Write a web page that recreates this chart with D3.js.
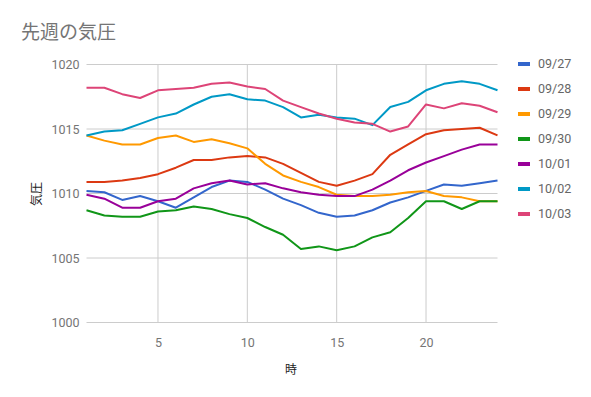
<!DOCTYPE html>
<html>
<head>
<meta charset="utf-8">
<script src="https://cdn.jsdelivr.net/npm/d3@7"></script>
<style>
  body { margin: 0; background: #fff; }
  text { font-family: Roboto, "Noto Sans CJK JP", sans-serif; }
</style>
</head>
<body>
<svg id="chart"></svg>
<script>
// 時 (x)
const hours = d3.range(1, 25);
const seriesNames = ["09/27", "09/28", "09/29", "09/30", "10/01", "10/02", "10/03"];
const seriesColors = ["#3366cc", "#dc3912", "#ff9900", "#109618", "#990099", "#0099c6", "#dd4477"];
const yTicks = [1000, 1005, 1010, 1015, 1020];
const xTicks = [5, 10, 15, 20];

const p0927 = [1010.2, 1010.1, 1009.5, 1009.8, 1009.4, 1008.9, 1009.7, 1010.5, 1011.0, 1010.9, 1010.3, 1009.6,
               1009.1, 1008.5, 1008.2, 1008.3, 1008.7, 1009.3, 1009.7, 1010.2, 1010.7, 1010.6, 1010.8, 1011.0];
const p0928 = [1010.9, 1010.9, 1011.0, 1011.2, 1011.5, 1012.0, 1012.6, 1012.6, 1012.8, 1012.9, 1012.8, 1012.3,
               1011.6, 1010.9, 1010.6, 1011.0, 1011.5, 1013.0, 1013.8, 1014.6, 1014.9, 1015.0, 1015.1, 1014.5];
const p0929 = [1014.5, 1014.1, 1013.8, 1013.8, 1014.3, 1014.5, 1014.0, 1014.2, 1013.9, 1013.5, 1012.3, 1011.4,
               1010.9, 1010.5, 1009.9, 1009.8, 1009.8, 1009.9, 1010.1, 1010.2, 1009.8, 1009.7, 1009.4, 1009.4];
const p0930 = [1008.7, 1008.3, 1008.2, 1008.2, 1008.6, 1008.7, 1009.0, 1008.8, 1008.4, 1008.1, 1007.4, 1006.8,
               1005.7, 1005.9, 1005.6, 1005.9, 1006.6, 1007.0, 1008.1, 1009.4, 1009.4, 1008.8, 1009.4, 1009.4];
const p1001 = [1009.9, 1009.6, 1008.9, 1008.9, 1009.4, 1009.6, 1010.4, 1010.8, 1011.0, 1010.7, 1010.8, 1010.4,
               1010.1, 1009.9, 1009.8, 1009.8, 1010.3, 1011.0, 1011.8, 1012.4, 1012.9, 1013.4, 1013.8, 1013.8];
const p1002 = [1014.5, 1014.8, 1014.9, 1015.4, 1015.9, 1016.2, 1016.9, 1017.5, 1017.7, 1017.3, 1017.2, 1016.7,
               1015.9, 1016.1, 1015.9, 1015.8, 1015.3, 1016.7, 1017.1, 1018.0, 1018.5, 1018.7, 1018.5, 1018.0];
const p1003 = [1018.2, 1018.2, 1017.7, 1017.4, 1018.0, 1018.1, 1018.2, 1018.5, 1018.6, 1018.3, 1018.1, 1017.2,
               1016.7, 1016.2, 1015.8, 1015.5, 1015.4, 1014.8, 1015.2, 1016.9, 1016.6, 1017.0, 1016.8, 1016.3];
const allSeries = [p0927, p0928, p0929, p0930, p1001, p1002, p1003];

const width = 591;
const height = 397;
const svg = d3.select("#chart").attr("width", width).attr("height", height);

const xScale = d3.scaleLinear().domain([1, 24]).range([86.5, 497.5]);
const yScale = d3.scaleLinear().domain([1000, 1020]).range([322.5, 64.5]);

// title
svg.append("text")
  .attr("x", 21).attr("y", 39)
  .attr("fill", "#757575")
  .style("font-size", "19px")
  .style("font-family", "'Noto Sans CJK JP', sans-serif")
  .text("先週の気圧");

// grid
const grid = svg.append("g");
grid.selectAll(".hg").data(yTicks).enter().append("line")
  .attr("x1", xScale(1)).attr("x2", xScale(24))
  .attr("y1", d => yScale(d)).attr("y2", d => yScale(d))
  .attr("stroke", "#cccccc").attr("stroke-width", 1);
grid.selectAll(".vg").data(xTicks).enter().append("line")
  .attr("x1", d => xScale(d)).attr("x2", d => xScale(d))
  .attr("y1", yScale(1020)).attr("y2", yScale(1000))
  .attr("stroke", "#cccccc").attr("stroke-width", 1);

// y axis labels
const yAxis = d3.axisLeft(yScale).tickValues(yTicks).tickFormat(d3.format("d")).tickSize(0).tickPadding(7);
const gy = svg.append("g").attr("transform", `translate(${xScale(1)},0)`).call(yAxis);
gy.select(".domain").remove();
gy.selectAll("text").attr("fill", "#757575").style("font-size", "12.5px");

// x axis labels
const xAxis = d3.axisBottom(xScale).tickValues(xTicks).tickFormat(d3.format("d")).tickSize(0).tickPadding(16);
const gx = svg.append("g").attr("transform", `translate(0,${yScale(1000)})`).call(xAxis);
gx.select(".domain").remove();
gx.selectAll("text").attr("fill", "#757575").style("font-size", "12.5px");

// axis titles
svg.append("text")
  .attr("x", 291).attr("y", 374)
  .attr("text-anchor", "middle")
  .attr("fill", "#222")
  .style("font-size", "12px")
  .style("font-family", "'Noto Sans CJK JP', sans-serif")
  .text("時");
svg.append("text")
  .attr("transform", "translate(41,194) rotate(-90)")
  .attr("text-anchor", "middle")
  .attr("fill", "#222")
  .style("font-size", "12px")
  .style("font-family", "'Noto Sans CJK JP', sans-serif")
  .text("気圧");

// lines
const line = d3.line()
  .x((d, i) => xScale(hours[i]))
  .y(d => yScale(d));
svg.append("g").selectAll("path")
  .data(allSeries)
  .enter()
  .append("path")
  .attr("d", d => line(d))
  .attr("fill", "none")
  .attr("stroke", (d, i) => seriesColors[i])
  .attr("stroke-width", 2)
  .attr("stroke-linejoin", "round");

// legend
const legend = svg.append("g").selectAll("g")
  .data(seriesNames)
  .enter()
  .append("g")
  .attr("transform", (d, i) => `translate(518,${64 + i * 25})`);
legend.append("rect")
  .attr("x", 0).attr("y", -2)
  .attr("width", 12).attr("height", 4)
  .attr("fill", (d, i) => seriesColors[i]);
legend.append("text")
  .attr("x", 20).attr("y", 0)
  .attr("dy", "0.35em")
  .attr("fill", "#666")
  .style("font-size", "12.5px")
  .text(d => d);
</script>
</body>
</html>
